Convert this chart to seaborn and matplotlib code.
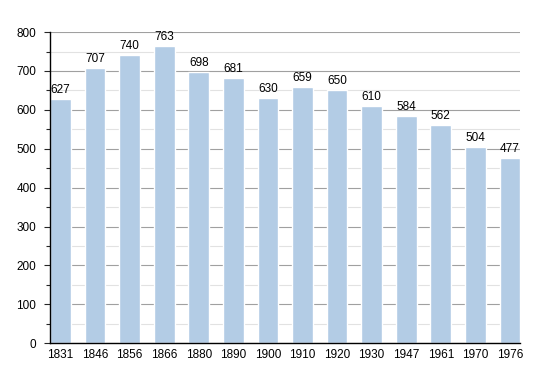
import seaborn as sns
import matplotlib.pyplot as plt
from matplotlib.ticker import MultipleLocator
import pandas as pd

years = ["1831", "1846", "1856", "1866", "1880", "1890", "1900",
         "1910", "1920", "1930", "1947", "1961", "1970", "1976"]
population = [627, 707, 740, 763, 698, 681, 630, 659, 650, 610, 584, 562, 504, 477]

df = pd.DataFrame({"year": years, "pop": population})

sns.set_style("white")
plt.rcParams['font.family'] = ['Liberation Sans', 'DejaVu Sans']

fig = plt.figure(figsize=(5.5, 3.73), dpi=100)
ax = fig.add_axes([0.091, 0.080, 0.855, 0.834])

sns.barplot(data=df, x="year", y="pop", color="#b3cce5", saturation=1,
            width=0.6, ax=ax, zorder=2)

ax.set_xlim(-0.3, 13.3)
ax.set_ylim(0, 800)
ax.yaxis.set_major_locator(MultipleLocator(100))
ax.yaxis.set_minor_locator(MultipleLocator(50))
ax.grid(axis="y", which="major", color="#a0a0a0", lw=0.8, zorder=0)
ax.grid(axis="y", which="minor", color="#e2e2e2", lw=0.8, zorder=0)
ax.set_axisbelow(True)

for s in ["top", "right"]:
    ax.spines[s].set_visible(False)
for s in ["left", "bottom"]:
    ax.spines[s].set_color("black")
    ax.spines[s].set_linewidth(1)

ax.tick_params(axis="y", which="major", left=True, length=4, width=0.8,
               labelsize=8.5, labelcolor="black", pad=6)
ax.tick_params(axis="y", which="minor", left=True, length=3, width=0.8)
ax.tick_params(axis="x", bottom=False, labelsize=8.5, labelcolor="black", pad=1)
ax.set_xlabel("")
ax.set_ylabel("")

for i, v in enumerate(population):
    ax.text(i, v + 8, str(v), ha="center", va="bottom", fontsize=8.5,
            color="black")

fig.savefig("out.png", dpi=100)
